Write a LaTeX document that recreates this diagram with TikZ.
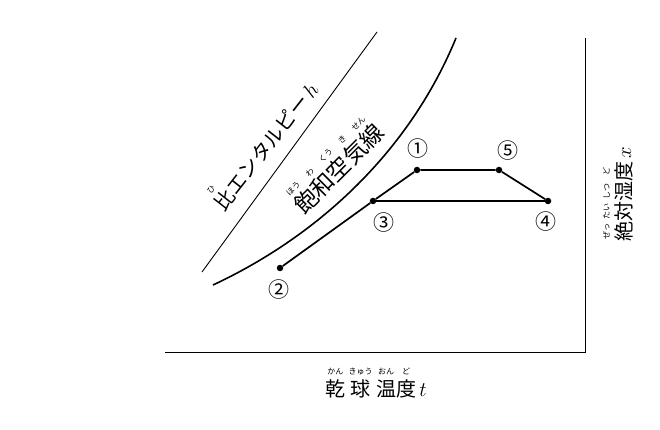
\documentclass[tikz,border=0pt]{standalone}
\usepackage{fontspec}
\newfontfamily\jp{Noto Sans CJK JP}
\newcommand\rb[2]{\shortstack[c]{{\fontsize{8}{9}\selectfont #2}\\[1.5pt]#1}}
\begin{document}
\begin{tikzpicture}[x=1pt,y=-1pt]
\useasboundingbox (0,0) rectangle (660,430);
\tikzset{
  dot/.style={circle,fill,inner sep=0pt,minimum size=6.5pt},
  thick line/.style={line width=1.7pt},
  num/.style={font=\jp\fontsize{21}{21}\selectfont,inner sep=0pt},
  jlabel/.style={font=\jp\fontsize{20}{20}\selectfont,inner sep=0pt},
}
% axes
\coordinate (ax0) at (165,352);
\coordinate (corner) at (585,352);
\coordinate (ay1) at (585,38);
\draw[line width=0.8pt] (ax0) -- (corner) -- (ay1);
% enthalpy line
\coordinate (h0) at (202,272);
\coordinate (h1) at (377,32);
\draw[line width=0.9pt] (h0) -- (h1);
% saturation curve
\coordinate (s0) at (213,285);
\coordinate (s1) at (456,38);
\draw[line width=1.6pt] (s0) .. controls (320,235) and (410,150) .. (s1);
% state points
\node[dot] (p1) at (417,170) {};
\node[dot] (p5) at (499,170) {};
\node[dot] (p3) at (373,201) {};
\node[dot] (p4) at (548,201) {};
\node[dot] (p2) at (280,268) {};
\draw[thick line] (p2) -- (p3) -- (p1) -- (p5) -- (p4);
\draw[line width=1.1pt] (p3) -- (p4);
% numbers
\node[num] (n1) at (418,149) {①};
\node[num] (n5) at (508,151) {⑤};
\node[num] (n3) at (384,223) {③};
\node[num] (n4) at (546,222) {④};
\node[num] (n2) at (279,290) {②};
% labels
\node[jlabel,rotate=52,anchor=base] (lh) at (272,151) {\rb{比}{ひ}エンタルピー\,$h$};
\node[jlabel,rotate=45,anchor=base,font=\jp\fontsize{23}{23}\selectfont] (ls) at (345,175) {\rb{飽}{ほう}\rb{和}{わ}\rb{空}{くう}\rb{気}{き}\rb{線}{せん}};
\node[jlabel,anchor=base] (lx) at (376,396) {\rb{乾}{かん}\,\rb{球}{きゅう}\,\rb{温}{おん}\rb{度}{ど}\,$t$};
\node[jlabel,rotate=90,anchor=base] (ly) at (631,194) {\rb{絶}{ぜっ}\rb{対}{たい}\rb{湿}{しつ}\rb{度}{ど}\,$x$};
\end{tikzpicture}
\end{document}
